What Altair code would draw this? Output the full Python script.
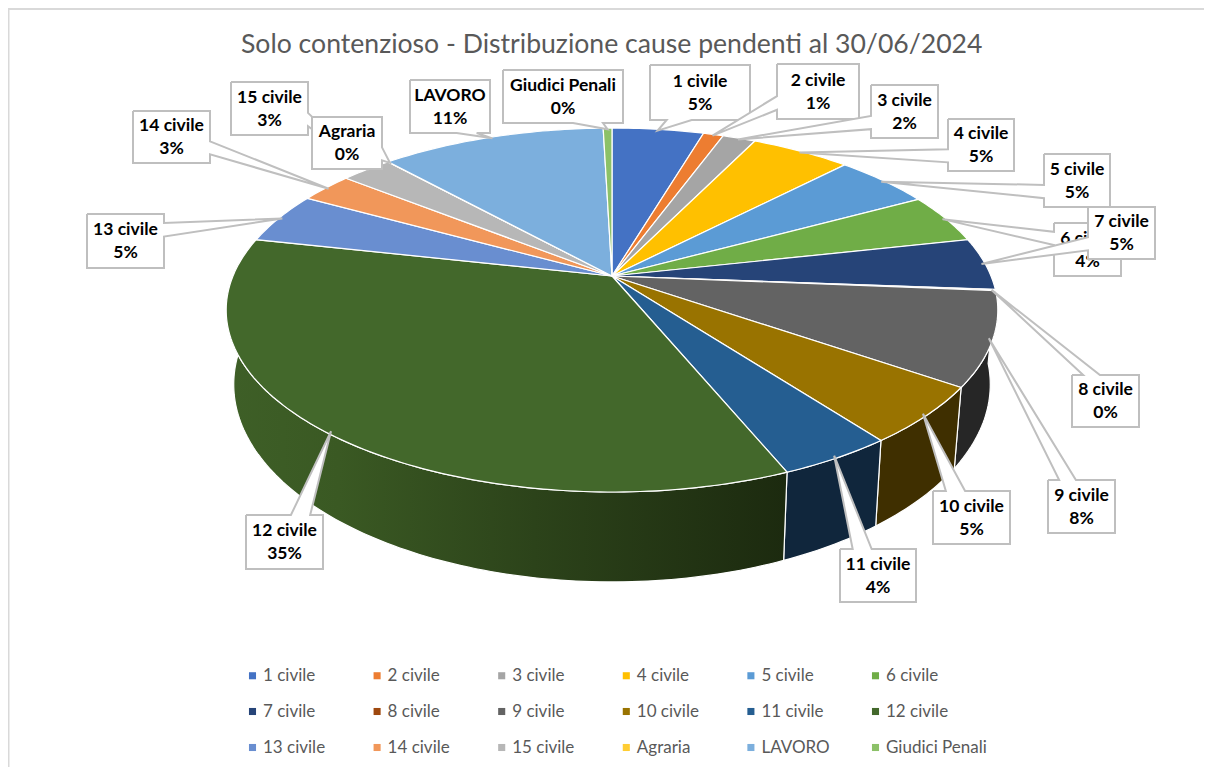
import math
import altair as alt
import pandas as pd

# ---- data ----
names = ["1 civile", "2 civile", "3 civile", "4 civile", "5 civile", "6 civile",
         "7 civile", "8 civile", "9 civile", "10 civile", "11 civile", "12 civile",
         "13 civile", "14 civile", "15 civile", "Agraria", "LAVORO", "Giudici Penali"]
values = [4.6, 1.0, 1.66, 5.0, 4.87, 4.43, 4.65, 0.1, 8.3, 5.08, 4.08, 34.7,
          4.55, 2.67, 2.57, 0.02, 11.3, 0.44]
percent_labels = ["5%", "1%", "2%", "5%", "5%", "4%", "5%", "0%", "8%", "5%", "4%", "35%",
                  "5%", "3%", "3%", "0%", "11%", "0%"]
colors = ["#4472C4", "#ED7D31", "#A5A5A5", "#FFC000", "#5B9BD5", "#70AD47",
          "#264478", "#9E480E", "#636363", "#997300", "#255E91", "#43682B",
          "#698ED0", "#F1975A", "#B7B7B7", "#FFCD33", "#7CAFDD", "#8CC168"]
wall_colors = {"9 civile": "#262626", "10 civile": "#3F2F00", "11 civile": "#10263C"}
title_text = "Solo contenzioso - Distribuzione cause pendenti al 30/06/2024"

# ---- layout: callout boxes (x0, y0, x1, y1) in picture pixels ----
boxes = [(650, 65, 750, 120), (777, 64, 859, 119), (871, 85, 938, 138), (948, 119, 1014, 171),
         (1044, 154, 1110, 207), (1054, 223, 1121, 276), (1088, 207, 1155, 259), (1072, 375, 1139, 427),
         (1048, 480, 1115, 533), (933, 491, 1010, 544), (840, 549, 916, 602), (246, 515, 323, 569),
         (87, 214, 164, 268), (133, 111, 210, 163), (231, 82, 308, 135), (312, 117, 382, 169),
         (410, 80, 490, 133), (503, 70, 623, 123)]

# perspective of the 3D pie
CX, CY_TOP, CY_BOT = 612.0, 276.0, 347.5
AX_TOP, AY_TOP, AX_BOT, AY_BOT, P = 379.0, 175.6, 371.6, 190.6, 0.187


def project(deg, bottom=False, r=1.0):
    t = math.radians(deg)
    u, v = r * math.sin(t), r * math.cos(t)
    k = 1 + P * v
    if bottom:
        return CX + AX_BOT * u / k, CY_BOT - AY_BOT * v / k
    return CX + AX_TOP * u / k, CY_TOP - AY_TOP * v / k


def arc(t0, t1, bottom=False):
    n = max(2, int(abs(t1 - t0)) + 2)
    return [project(t0 + (t1 - t0) * i / (n - 1), bottom) for i in range(n)]


total = sum(values)
spans = []
acc = 0.0
for val in values:
    spans.append((acc * 360 / total, (acc + val) * 360 / total))
    acc += val

top_rows, wall_rows = [], []
for name, (t0, t1) in zip(names, spans):
    pts = [(CX, CY_TOP)] + arc(t0, t1) + [(CX, CY_TOP)]
    top_rows += [{"name": name, "o": i, "x": x, "y": y} for i, (x, y) in enumerate(pts)]
    if name in wall_colors or name == "12 civile":
        pts = arc(t0, t1) + arc(t1, t0, True)
        pts.append(pts[0])
        wall_rows += [{"name": name, "o": i, "x": x, "y": y} for i, (x, y) in enumerate(pts)]
top_df = pd.DataFrame(top_rows)
wall_df = pd.DataFrame(wall_rows)


def callout(box, tip):
    """Rectangle with a wedge running to the slice."""
    x0, y0, x1, y1 = box
    w, h = x1 - x0, y1 - y0
    dx, dy = tip[0] - (x0 + x1) / 2, tip[1] - (y0 + y1) / 2
    pts = [(x0, y0)]
    if abs(dy / h) > abs(dx / w):
        a, b = (w / 6, w * 5 / 12) if dx < 0 else (w * 7 / 12, w * 5 / 6)
        if dy < 0:
            pts += [(x0 + a, y0), tip, (x0 + b, y0)]
        pts += [(x1, y0), (x1, y1)]
        if dy > 0:
            pts += [(x0 + b, y1), tip, (x0 + a, y1)]
        pts += [(x0, y1)]
    else:
        a, b = (h / 6, h * 5 / 12) if dy < 0 else (h * 7 / 12, h * 5 / 6)
        pts += [(x1, y0)]
        if dx > 0:
            pts += [(x1, y0 + a), tip, (x1, y0 + b)]
        pts += [(x1, y1), (x0, y1)]
        if dx < 0:
            pts += [(x0, y0 + b), tip, (x0, y0 + a)]
    pts.append(pts[0])
    return pts


WIDTH, HEIGHT = 1196, 759
x_scale = alt.Scale(domain=[8, 8 + WIDTH], nice=False, zero=False)
y_scale = alt.Scale(domain=[8 + HEIGHT, 8], nice=False, zero=False)
X = alt.X("x:Q", scale=x_scale, axis=None)
Y = alt.Y("y:Q", scale=y_scale, axis=None)

frame_top = alt.Chart(pd.DataFrame({"a": [0]})).mark_rule(color="#D9D9D9", strokeWidth=2).encode(
    x=alt.value(0), x2=alt.value(WIDTH), y=alt.value(1))
frame_left = alt.Chart(pd.DataFrame({"a": [0]})).mark_rule(color="#D9D9D9", strokeWidth=2).encode(
    x=alt.value(0.5), y=alt.value(0), y2=alt.value(HEIGHT))

layers = [frame_top, frame_left]

# side walls
for name, col in wall_colors.items():
    layers.append(alt.Chart(wall_df[wall_df["name"] == name]).mark_line(
        fill=col, stroke="#FFFFFF", strokeWidth=1.2).encode(x=X, y=Y, order="o:Q"))
layers.append(alt.Chart(wall_df[wall_df["name"] == "12 civile"]).mark_line(
    fill=alt.Gradient(gradient="linear", x1=0, x2=1, y1=0, y2=0, stops=[
        alt.GradientStop(color="#3E5F27", offset=0),
        alt.GradientStop(color="#3A5923", offset=0.2),
        alt.GradientStop(color="#2C431A", offset=0.55),
        alt.GradientStop(color="#1C2A0F", offset=1)]),
    stroke="#FFFFFF", strokeWidth=1.2).encode(x=X, y=Y, order="o:Q"))

# top surface
layers.append(alt.Chart(top_df).mark_line(stroke="#FFFFFF", strokeWidth=1.2).encode(
    x=X, y=Y, order="o:Q",
    fill=alt.Fill("name:N", scale=alt.Scale(domain=names, range=colors), legend=alt.Legend(
        title=None, orient="none", legendX=236, legendY=659, columns=6, gridAlign="all", direction="horizontal",
        symbolType="square", symbolSize=50, symbolStrokeWidth=0, labelFont="Lato", labelFontSize=17,
        labelColor="#595959", columnPadding=4.6, rowPadding=18, labelOffset=2))))

# callouts
for name, pct, box, (t0, t1) in zip(names, percent_labels, boxes, spans):
    tip = project((t0 + t1) / 2, r=0.99)
    poly = pd.DataFrame([{"o": i, "x": x, "y": y} for i, (x, y) in enumerate(callout(box, tip))])
    layers.append(alt.Chart(poly).mark_line(
        fill="#FFFFFF", stroke="#BFBFBF", strokeWidth=2, strokeJoin="miter").encode(x=X, y=Y, order="o:Q"))
    label = pd.DataFrame({"x": [(box[0] + box[2]) / 2], "y": [(box[1] + box[3]) / 2],
                          "t": [name + "\n" + pct]})
    layers.append(alt.Chart(label).mark_text(
        font="Lato", fontWeight="bold", fontSize=17.5, color="#000000", lineBreak="\n",
        lineHeight=23, baseline="middle", align="center", dy=-11).encode(x=X, y=Y, text="t:N"))

chart = alt.layer(*layers).properties(
    width=WIDTH, height=HEIGHT, padding=0, autosize=alt.AutoSizeParams(type="none"),
    title=alt.TitleParams(title_text, font="Lato", fontSize=26.6, fontWeight="normal", color="#595959",
                          anchor="start", dx=234, dy=56),
).configure_view(stroke=None)

chart.save("out.html", embed_options={"renderer": "svg", "actions": False})
